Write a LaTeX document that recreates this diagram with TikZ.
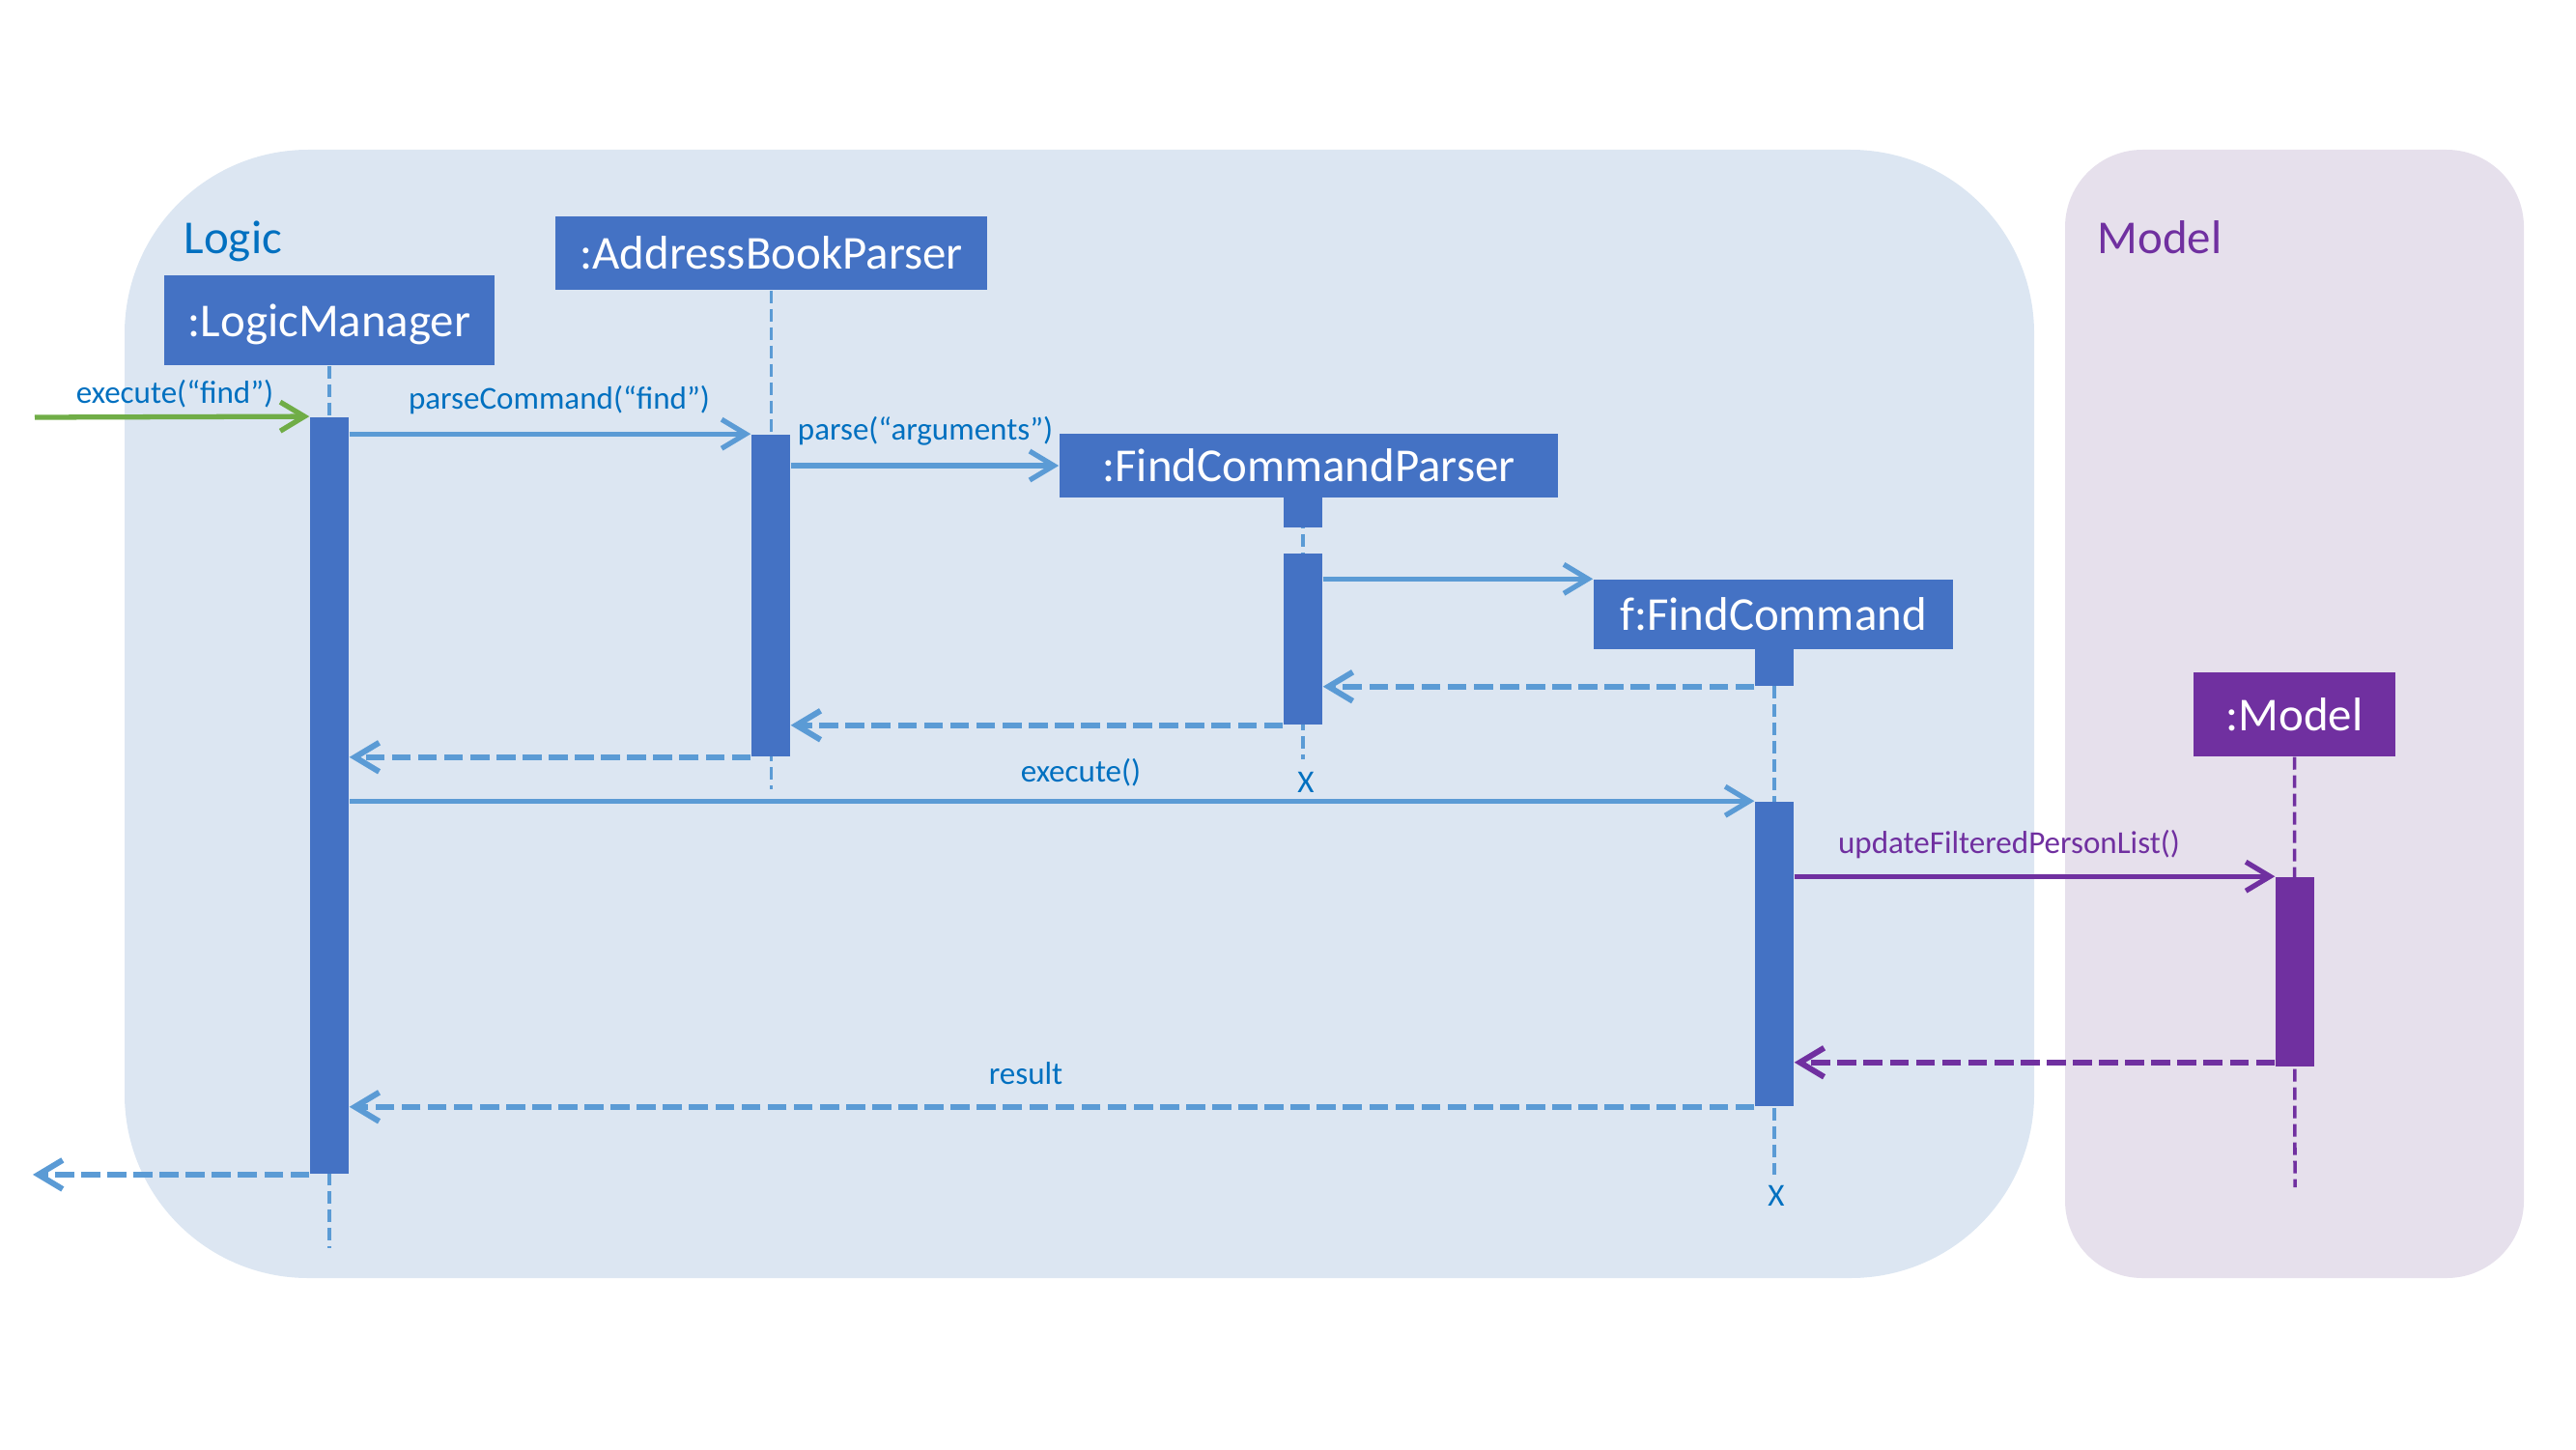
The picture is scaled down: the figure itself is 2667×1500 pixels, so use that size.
\documentclass[tikz,border=0pt]{standalone}
\usepackage{fontspec}
\setmainfont{Carlito}
\usetikzlibrary{arrows.meta}
\definecolor{boxblue}{HTML}{4472C4}
\definecolor{arrowblue}{HTML}{5B9BD5}
\definecolor{textblue}{HTML}{0070C0}
\definecolor{mgreen}{HTML}{70AD47}
\definecolor{mpurple}{HTML}{7030A0}
\definecolor{logicbg}{RGB}{220,230,242}
\definecolor{modelbg}{RGB}{230,224,236}
\begin{document}
\begin{tikzpicture}[x=0.01cm,y=-0.01cm,
  obj/.style={rectangle, fill=boxblue, text=white, font=\fontsize{13.9}{16}\selectfont, inner sep=0pt, anchor=center, text height=0.33cm, text depth=0pt},
  bar/.style={rectangle, fill=boxblue, minimum width=0.4cm, inner sep=0pt},
  hdr/.style={anchor=base west, inner sep=0pt, font=\fontsize{13.9}{16}\selectfont},
  lifeline/.style={draw=arrowblue, line width=1pt, dash pattern=on 3.7pt off 1.7pt},
  msg/.style={draw=arrowblue, line width=1.5pt, -{Straight Barb[length=2.5mm,width=3mm]}},
  ret/.style={msg, line width=1.7pt, dash pattern=on 5.6pt off 2.1pt},
  lbl/.style={text=textblue, font=\fontsize{9.4}{11}\selectfont, inner sep=0pt},
]
\useasboundingbox (0,0) rectangle (2667,1500);
% regions
\fill[logicbg, rounded corners=1.9cm] (129,155) rectangle (2106,1323);
\fill[modelbg, rounded corners=0.8cm] (2138,155) rectangle (2613,1323);
\node[hdr, text=textblue] (logiclbl) at (190,262) {Logic};
\node[hdr, text=mpurple] (modellbl) at (2171,262) {Model};

% object boxes
\node[obj, minimum width=3.42cm, minimum height=0.93cm] (lm) at (341,331.5) {:LogicManager};
\node[obj, minimum width=4.47cm, minimum height=0.76cm] (abp) at (798.5,262) {:AddressBookParser};
\node[obj, minimum width=5.16cm, minimum height=0.66cm] (fcp) at (1355,482) {:FindCommandParser};
\node[obj, minimum width=3.72cm, minimum height=0.72cm] (fc) at (1836,636) {f:FindCommand};
\node[obj, fill=mpurple, minimum width=2.09cm, minimum height=0.87cm] (model) at (2375.5,739.5) {:Model};

% lifeline ends
\coordinate (lmend) at (341,1292);
\coordinate (abpend) at (798.5,817);
\coordinate (fcpend) at (1349,786);
\coordinate (fcend) at (1837,1216);
\coordinate (mend) at (2376,1229);

\draw[lifeline] (lm.south) -- (lmend);
\draw[lifeline] (abp.south) -- (abpend);
\draw[lifeline] (1349,515) -- (fcpend);
\draw[lifeline] (1837,672) -- (fcend);
\draw[lifeline, draw=mpurple] (model.south) -- (mend);

% activation bars
\node[bar, minimum height=7.83cm] (lmbar) at (341,823.5) {};
\node[bar, minimum height=3.33cm] (abpbar) at (798,616.5) {};
\node[bar, minimum height=0.31cm] (fcps) at (1349,530.5) {};
\node[bar, minimum height=1.77cm] (fcpbar) at (1349,661.5) {};
\node[bar, minimum height=0.38cm] (fcs) at (1837,691) {};
\node[bar, minimum height=3.15cm] (fcbar) at (1837,987.5) {};
\node[bar, fill=mpurple, minimum height=1.96cm] (mbar) at (2376,1006) {};

% messages
\coordinate (in) at (36,432);
\draw[msg, draw=mgreen] (in) -- (lmbar.north west);
\node[lbl] (l1) at (181,408) {execute(“find”)};

\draw[msg] (lmbar.east |- abpbar.north) -- (abpbar.north west);
\node[lbl] (l2) at (579,414) {parseCommand(“find”)};

\draw[msg] (abpbar.east |- fcp.west) -- (fcp.west);
\node[lbl] (l3) at (958,446) {parse(“arguments”)};

\draw[msg] (fcpbar.east |- fc.north west) -- (fc.north west);

\draw[ret] (fcs.south west) -- (fcpbar.east |- fcs.south west);
\draw[ret] (fcpbar.south west) -- (abpbar.east |- fcpbar.south west);
\draw[ret] (abpbar.south west) -- (lmbar.east |- abpbar.south west);
\node[lbl] (x1) at (1352,810) {X};

\draw[msg] (lmbar.east |- fcbar.north) -- (fcbar.north west);
\node[lbl] (l4) at (1119,800) {execute()};

\draw[msg, draw=mpurple] (fcbar.east |- mbar.north) -- (mbar.north west);
\node[lbl, text=mpurple] (l5) at (2080,874) {updateFilteredPersonList()};

\coordinate (mret) at ([yshift=0.05cm]mbar.south west);
\draw[ret, draw=mpurple] (mret) -- (fcbar.east |- mret);

\draw[ret] (fcbar.south west) -- (lmbar.east |- fcbar.south west);
\node[lbl] (l6) at (1062,1111) {result};
\node[lbl] (x2) at (1839,1238) {X};

\coordinate (out) at (34,1213);
\draw[ret] (lmbar.south west) -- (out |- lmbar.south west);
\end{tikzpicture}
\end{document}
